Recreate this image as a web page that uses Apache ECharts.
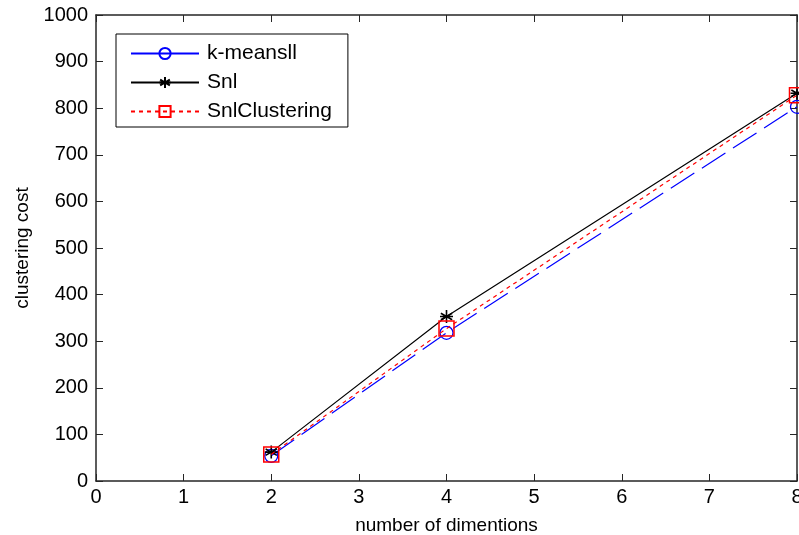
<!DOCTYPE html>
<html>
<head>
<meta charset="utf-8">
<script src="https://cdn.jsdelivr.net/npm/echarts@6/dist/echarts.min.js"></script>
<style>
  html, body { margin: 0; padding: 0; background: #fff; }
  #chart { width: 799px; height: 535px; }
</style>
</head>
<body>
<div id="chart"></div>
<script>
// data
const dims = [2, 4, 8];
const kmeansII = [54, 318, 803];
const snl = [62, 353, 832];
const snlClustering = [57, 327, 828];

const xTicks = [0, 1, 2, 3, 4, 5, 6, 7, 8];
const yTicks = [0, 100, 200, 300, 400, 500, 600, 700, 800, 900, 1000];

const star = 'path://M0,-1L0,1M-0.87,-0.5L0.87,0.5M-0.87,0.5L0.87,-0.5M-1,0L1,0';
const font = 'Liberation Sans';

function pairs(ys) {
  return dims.map((d, i) => [d, ys[i]]);
}

const chart = echarts.init(document.getElementById('chart'), null, { renderer: 'canvas' });

const tick = { show: true, inside: true, length: 7, lineStyle: { color: '#262626', width: 1 } };
const axisLine = { show: true, onZero: false, lineStyle: { color: '#262626', width: 1.5 } };

let options = {
  backgroundColor: '#ffffff',
  animation: false,
  textStyle: { fontFamily: font },
  grid: { left: 96, right: 2, top: 15, bottom: 54, containLabel: false, outerBoundsMode: 'none' },
  legend: {
    left: 116,
    top: 34,
    orient: 'vertical',
    itemWidth: 68,
    itemHeight: 14,
    itemGap: 8,
    padding: [9, 16, 5, 14],
    borderColor: '#000',
    borderWidth: 1,
    backgroundColor: '#fff',
    textStyle: { fontFamily: font, fontSize: 21, color: '#000', padding: [0, 0, 0, 3] },
    data: [
      { name: 'k-meansll', lineStyle: { type: 'solid' } },
      { name: 'Snl' },
      { name: 'SnlClustering' }
    ]
  },
  xAxis: [{
    type: 'value',
    min: 0, max: 8, interval: 1,
    name: 'number of dimentions',
    nameLocation: 'middle',
    nameGap: 35,
    nameTextStyle: { fontFamily: font, fontSize: 19, color: '#000' },
    axisLine: axisLine,
    axisTick: tick,
    axisLabel: { fontFamily: font, fontSize: 20, color: '#000', margin: 6,
      formatter: v => xTicks.includes(v) ? String(v) : '' },
    splitLine: { show: false }
  }, {
    type: 'value', position: 'top',
    min: 0, max: 8, interval: 1,
    axisLine: axisLine, axisTick: tick,
    axisLabel: { show: false }, splitLine: { show: false }
  }],
  yAxis: [{
    type: 'value',
    min: 0, max: 1000, interval: 100,
    name: 'clustering cost',
    nameLocation: 'middle',
    nameGap: 63,
    nameTextStyle: { fontFamily: font, fontSize: 19, color: '#000' },
    axisLine: axisLine,
    axisTick: tick,
    axisLabel: { fontFamily: font, fontSize: 20, color: '#000', margin: 8,
      formatter: v => yTicks.includes(v) ? String(v) : '' },
    splitLine: { show: false }
  }, {
    type: 'value', position: 'right',
    min: 0, max: 1000, interval: 100,
    axisLine: axisLine, axisTick: tick,
    axisLabel: { show: false }, splitLine: { show: false }
  }],
  series: [
    {
      name: 'k-meansll',
      type: 'line',
      data: pairs(kmeansII),
      symbol: 'circle',
      symbolSize: 13,
      lineStyle: { color: '#0000ff', width: 1.2, type: [28, 9] },
      itemStyle: { color: 'rgba(255,255,255,0)', borderColor: '#0000ff', borderWidth: 1.3 },
      z: 2
    },
    {
      name: 'Snl',
      type: 'line',
      data: pairs(snl),
      symbol: star,
      symbolKeepAspect: true,
      symbolSize: 13,
      lineStyle: { color: '#000000', width: 1.2, type: 'solid' },
      itemStyle: { color: '#000000', borderColor: '#000000', borderWidth: 1.6 },
      z: 3
    },
    {
      name: 'SnlClustering',
      type: 'line',
      data: pairs(snlClustering),
      symbol: 'rect',
      symbolSize: 15,
      lineStyle: { color: '#ff0000', width: 1.2, type: [4, 4] },
      itemStyle: { color: 'rgba(255,255,255,0)', borderColor: '#ff0000', borderWidth: 1.5 },
      z: 4
    }
  ]
};

chart.setOption(options);
</script>
</body>
</html>
